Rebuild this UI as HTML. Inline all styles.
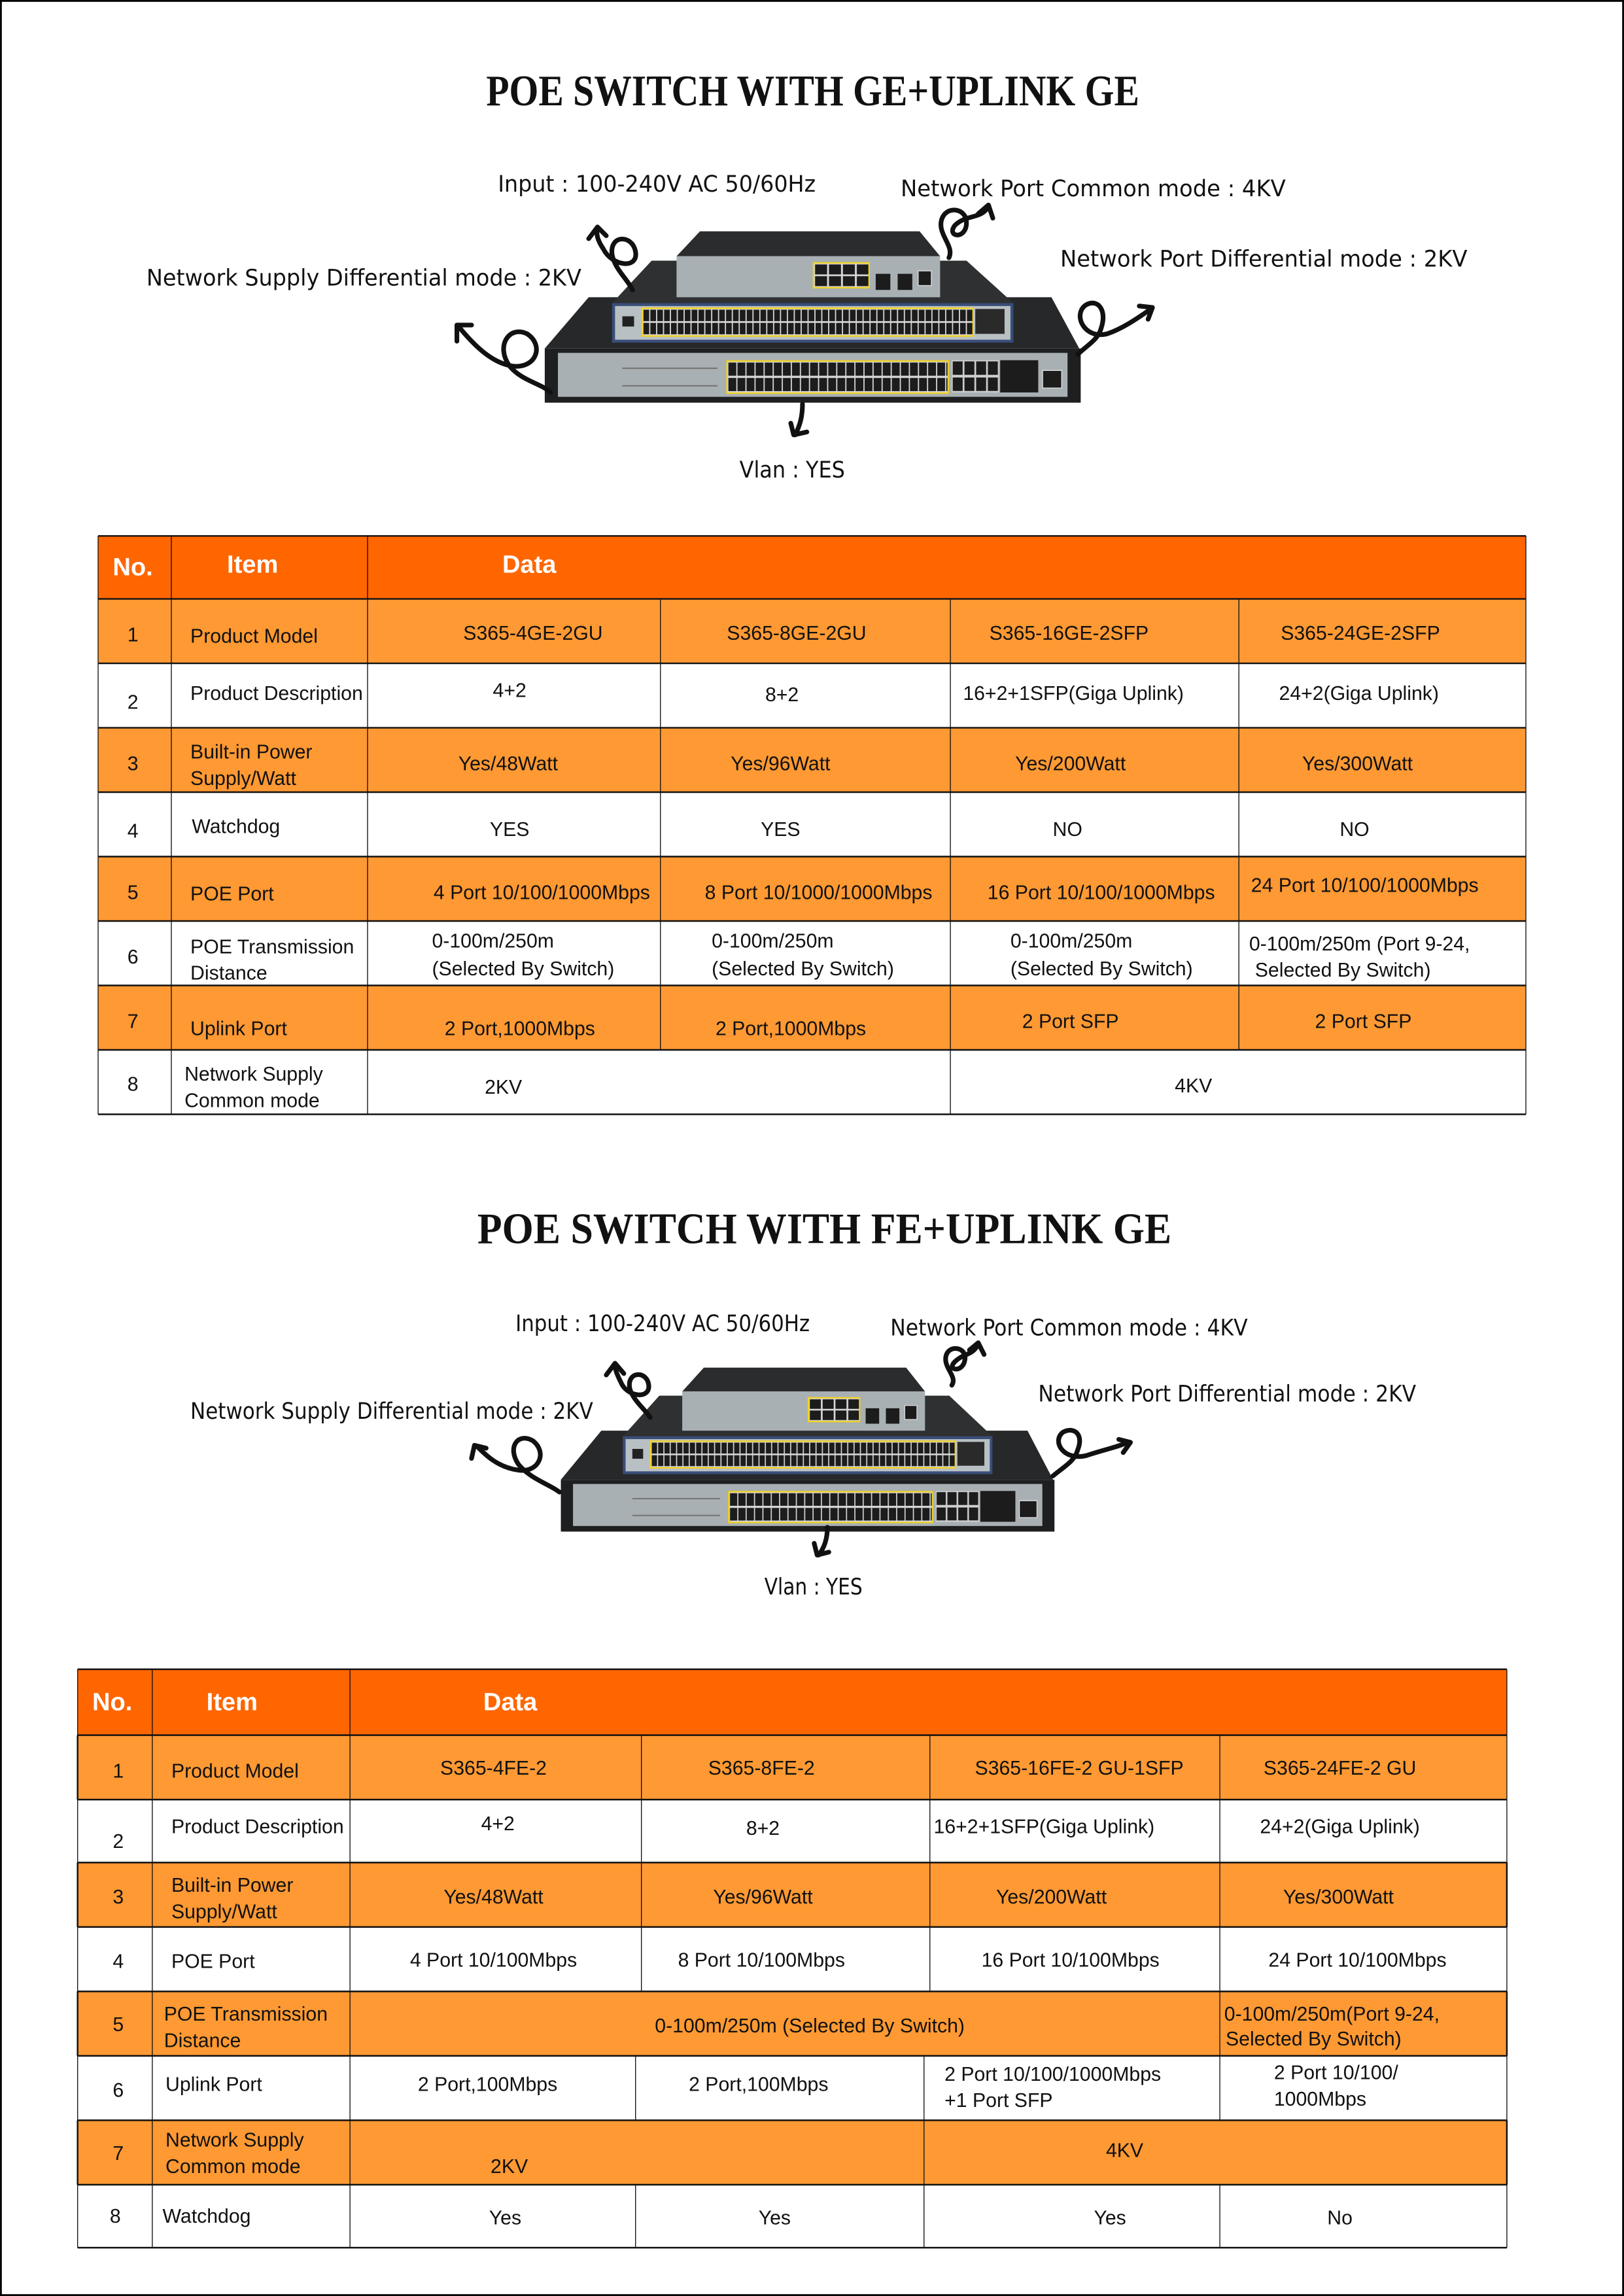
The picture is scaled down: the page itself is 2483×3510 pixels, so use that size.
<!DOCTYPE html>
<html><head><meta charset="utf-8"><style>
html,body{margin:0;padding:0;background:#fff}
svg{display:block}
.t{font-family:"Liberation Sans Narrow","Liberation Sans",sans-serif;font-size:13.5px;fill:#111}
.h{font-family:"Liberation Sans Narrow","Liberation Sans",sans-serif;font-size:17px;font-weight:bold;fill:#fff}
.l{font-family:"DejaVu Sans","Liberation Sans",sans-serif;font-size:15.5px;fill:#111}
.ti{font-family:"Liberation Serif",serif;font-size:30px;font-weight:bold;fill:#111}
.m{text-anchor:middle}
.a{fill:none;stroke:#111;stroke-width:3.2;stroke-linecap:round;stroke-linejoin:round}
</style></head><body>
<svg width="2483" height="3510" viewBox="0 0 1109 1568" preserveAspectRatio="none" xmlns="http://www.w3.org/2000/svg">
<defs>
<pattern id="p1" patternUnits="userSpaceOnUse" width="6.2" height="10.5" x="497" y="247"><rect width="6.2" height="10.5" fill="#d8d8d8"/><rect x="0.4" y="0.6" width="5.4" height="9" fill="#1c1c1c"/></pattern>
<pattern id="p2" patternUnits="userSpaceOnUse" width="4.7" height="9" x="439" y="211"><rect width="4.7" height="9" fill="#d8d8d8"/><rect x="0.4" y="0.5" width="3.9" height="7.8" fill="#1c1c1c"/></pattern>
<pattern id="p3" patternUnits="userSpaceOnUse" width="9.5" height="8" x="556" y="180"><rect width="9.5" height="8" fill="#d8d8d8"/><rect x="0.6" y="0.6" width="8.2" height="6.8" fill="#1c1c1c"/></pattern>
<pattern id="p4" patternUnits="userSpaceOnUse" width="8" height="11" x="650" y="246"><rect width="8" height="11" fill="#d0d0d0"/><rect x="0.6" y="0.8" width="6.8" height="9.2" fill="#1c1c1c"/></pattern>
<g id="sw">
 <polygon points="402,203 718,203 737,238 372,238" fill="#26282a"/>
 <polygon points="445,178 660,178 692,207 418,207" fill="#2e3032"/>
 <polygon points="478,158 628,158 642,175 462,175" fill="#2a2c2e"/>
 <rect x="462" y="175" width="180" height="28" fill="#a8b0b4"/>
 <rect x="555" y="179" width="39" height="18" fill="#f2d21a"/>
 <rect x="556" y="180" width="37" height="16" fill="url(#p3)"/>
 <rect x="598" y="187" width="10" height="11" fill="#1c1c1c"/>
 <rect x="613" y="187" width="10" height="11" fill="#1c1c1c"/>
 <rect x="627" y="185" width="9" height="10" fill="#1c1c1c" stroke="#ddd" stroke-width="0.6"/>
 <rect x="418" y="207" width="274" height="27" fill="#3a4d7a"/>
 <rect x="420" y="209" width="270" height="23" fill="#b9c0c3"/>
 <rect x="438" y="210" width="227" height="20" fill="#f2d21a"/>
 <rect x="439" y="211" width="225" height="18" fill="url(#p2)"/>
 <rect x="666" y="211" width="20" height="17" fill="#2a2a2a"/>
 <rect x="425" y="216" width="8" height="7" fill="#222"/>
 <rect x="372" y="238" width="366" height="37" fill="#1e1f20"/>
 <rect x="381" y="241" width="348" height="30" fill="#a9b0b3"/>
 <rect x="496" y="246" width="152" height="23" fill="#f2d21a"/>
 <rect x="497" y="247" width="150" height="21" fill="url(#p1)"/>
 <rect x="650" y="246" width="32" height="22" fill="url(#p4)"/>
 <rect x="683" y="246" width="26" height="22" fill="#1c1c1c"/>
 <rect x="712" y="253" width="13" height="12" fill="#1c1c1c" stroke="#ddd" stroke-width="0.6"/>
 <g fill="#777"><rect x="425" y="251" width="65" height="1"/><rect x="425" y="263" width="65" height="1"/></g>
</g>
</defs>
<rect x="0.5" y="0.5" width="1108" height="1567" fill="#fff" stroke="#000" stroke-width="1.5"/>

<text class="ti m" x="555" y="72" textLength="446" lengthAdjust="spacingAndGlyphs">POE SWITCH WITH GE+UPLINK GE</text>
<text class="l" x="340" y="131" textLength="217" lengthAdjust="spacingAndGlyphs">Input : 100-240V AC 50/60Hz</text>
<text class="l" x="615" y="134" textLength="263" lengthAdjust="spacingAndGlyphs">Network Port Common mode : 4KV</text>
<text class="l" x="100" y="195" textLength="297" lengthAdjust="spacingAndGlyphs">Network Supply Differential mode : 2KV</text>
<text class="l" x="724" y="182" textLength="278" lengthAdjust="spacingAndGlyphs">Network Port Differential mode : 2KV</text>
<text class="l" x="505" y="326" textLength="72" lengthAdjust="spacingAndGlyphs">Vlan : YES</text>

<use href="#sw"/>
<path class="a" d="M432,198 C428,190 420,184 418,174 C416,160 432,160 434,172 C436,184 418,182 412,170 C408,164 407,160 408,156"/>
<path class="a" d="M402,163 L408,155 L414,161"/>
<path class="a" d="M648,176 C652,168 640,160 643,150 C646,140 660,142 660,152 C660,164 646,162 652,154 C660,146 670,150 675,141"/>
<path class="a" d="M668,146 L675,140 L678,149"/>
<path class="a" d="M376,268 C370,262 356,260 348,250 C338,236 348,222 360,228 C372,236 366,252 350,250 C336,248 324,236 314,224"/>
<path class="a" d="M312,233 L312,222 L322,222"/>
<path class="a" d="M736,242 C742,236 750,232 752,224 C756,212 750,204 742,208 C732,214 740,232 756,228 C768,224 780,215 786,211"/>
<path class="a" d="M778,209 L787,210 L784,218"/>
<path class="a" d="M548,276 C548,285 546,291 543,297"/>
<path class="a" d="M540,289 L542,297 L551,295"/>

<rect x="67" y="366" width="975" height="43" fill="#ff6600"/>
<rect x="67" y="409" width="975" height="44" fill="#ff9933"/>
<rect x="67" y="497" width="975" height="44" fill="#ff9933"/>
<rect x="67" y="585" width="975" height="44" fill="#ff9933"/>
<rect x="67" y="673" width="975" height="44" fill="#ff9933"/>
<g stroke="#111" stroke-width="1.1">
<line x1="67" y1="366" x2="1042" y2="366"/><line x1="67" y1="409" x2="1042" y2="409"/>
<line x1="67" y1="453" x2="1042" y2="453"/><line x1="67" y1="497" x2="1042" y2="497"/>
<line x1="67" y1="541" x2="1042" y2="541"/><line x1="67" y1="585" x2="1042" y2="585"/>
<line x1="67" y1="629" x2="1042" y2="629"/><line x1="67" y1="673" x2="1042" y2="673"/>
<line x1="67" y1="717" x2="1042" y2="717"/><line x1="67" y1="761" x2="1042" y2="761"/>
</g>
<g stroke="#111" stroke-width="0.6">
<line x1="67" y1="366" x2="67" y2="761"/><line x1="1042" y1="366" x2="1042" y2="761"/>
<line x1="117" y1="366" x2="117" y2="761"/><line x1="251" y1="366" x2="251" y2="761"/>
<line x1="451" y1="409" x2="451" y2="717"/><line x1="649" y1="409" x2="649" y2="761"/>
<line x1="846" y1="409" x2="846" y2="717"/>
</g>
<text class="h" x="77" y="393">No.</text><text class="h" x="155" y="391">Item</text><text class="h" x="343" y="391">Data</text>
<g class="t">
<text x="87" y="438">1</text><text x="130" y="439">Product Model</text>
<text class="m" x="364" y="437">S365-4GE-2GU</text><text class="m" x="544" y="437">S365-8GE-2GU</text>
<text class="m" x="730" y="437">S365-16GE-2SFP</text><text class="m" x="929" y="437">S365-24GE-2SFP</text>
<text x="87" y="484">2</text><text x="130" y="478">Product Description</text>
<text class="m" x="348" y="476">4+2</text><text class="m" x="534" y="479">8+2</text>
<text class="m" x="733" y="478">16+2+1SFP(Giga Uplink)</text><text class="m" x="928" y="478">24+2(Giga Uplink)</text>
<text x="87" y="526">3</text><text x="130" y="518">Built-in Power</text><text x="130" y="536">Supply/Watt</text>
<text class="m" x="347" y="526">Yes/48Watt</text><text class="m" x="533" y="526">Yes/96Watt</text>
<text class="m" x="731" y="526">Yes/200Watt</text><text class="m" x="927" y="526">Yes/300Watt</text>
<text x="87" y="572">4</text><text x="131" y="569">Watchdog</text>
<text class="m" x="348" y="571">YES</text><text class="m" x="533" y="571">YES</text>
<text class="m" x="729" y="571">NO</text><text class="m" x="925" y="571">NO</text>
<text x="87" y="614">5</text><text x="130" y="615">POE Port</text>
<text class="m" x="370" y="614">4 Port 10/100/1000Mbps</text><text class="m" x="559" y="614">8 Port 10/1000/1000Mbps</text>
<text class="m" x="752" y="614">16 Port 10/100/1000Mbps</text><text class="m" x="932" y="609">24 Port 10/100/1000Mbps</text>
<text x="87" y="658">6</text><text x="130" y="651">POE Transmission</text><text x="130" y="669">Distance</text>
<text x="295" y="647">0-100m/250m</text><text x="295" y="666">(Selected By Switch)</text>
<text x="486" y="647">0-100m/250m</text><text x="486" y="666">(Selected By Switch)</text>
<text x="690" y="647">0-100m/250m</text><text x="690" y="666">(Selected By Switch)</text>
<text x="853" y="649">0-100m/250m (Port 9-24,</text><text x="857" y="667">Selected By Switch)</text>
<text x="87" y="702">7</text><text x="130" y="707">Uplink Port</text>
<text class="m" x="355" y="707">2 Port,1000Mbps</text><text class="m" x="540" y="707">2 Port,1000Mbps</text>
<text class="m" x="731" y="702">2 Port SFP</text><text class="m" x="931" y="702">2 Port SFP</text>
<text x="87" y="745">8</text><text x="126" y="738">Network Supply</text><text x="126" y="756">Common mode</text>
<text x="331" y="747">2KV</text><text class="m" x="815" y="746">4KV</text>
</g>

<text class="ti m" x="563" y="849" textLength="474" lengthAdjust="spacingAndGlyphs">POE SWITCH WITH FE+UPLINK GE</text>
<text class="l" x="352" y="909" textLength="201" lengthAdjust="spacingAndGlyphs">Input : 100-240V AC 50/60Hz</text>
<text class="l" x="608" y="912" textLength="244" lengthAdjust="spacingAndGlyphs">Network Port Common mode : 4KV</text>
<text class="l" x="130" y="969" textLength="275" lengthAdjust="spacingAndGlyphs">Network Supply Differential mode : 2KV</text>
<text class="l" x="709" y="957" textLength="258" lengthAdjust="spacingAndGlyphs">Network Port Differential mode : 2KV</text>
<text class="l" x="522" y="1089" textLength="67" lengthAdjust="spacingAndGlyphs">Vlan : YES</text>

<use href="#sw" transform="translate(383,934) scale(0.921,0.957) translate(-372,-158)"/>
<path class="a" d="M444,968 C440,962 432,956 430,948 C428,936 442,936 443,946 C444,956 428,954 424,944 C421,938 420,935 420,932"/>
<path class="a" d="M414,939 L420,931 L426,938"/>
<path class="a" d="M650,946 C654,940 644,934 646,926 C648,918 660,920 659,928 C658,938 646,936 652,930 C658,924 664,926 668,918"/>
<path class="a" d="M662,922 L668,917 L672,925"/>
<path class="a" d="M382,1019 C376,1014 362,1010 354,1000 C346,988 354,978 364,984 C374,992 368,1006 354,1004 C340,1002 332,994 326,988"/>
<path class="a" d="M322,996 L324,987 L332,989"/>
<path class="a" d="M719,1008 C726,1002 734,998 736,990 C740,980 734,974 726,978 C718,984 726,998 742,994 C754,990 764,988 770,985"/>
<path class="a" d="M764,983 L772,985 L767,992"/>
<path class="a" d="M565,1043 C565,1051 563,1057 559,1062"/>
<path class="a" d="M556,1054 L558,1062 L566,1060"/>

<rect x="53" y="1140" width="976" height="45" fill="#ff6600"/>
<rect x="53" y="1185" width="976" height="44" fill="#ff9933"/>
<rect x="53" y="1272" width="976" height="44" fill="#ff9933"/>
<rect x="53" y="1360" width="976" height="44" fill="#ff9933"/>
<rect x="53" y="1448" width="976" height="44" fill="#ff9933"/>
<g stroke="#111" stroke-width="1.1">
<line x1="53" y1="1140" x2="1029" y2="1140"/><line x1="53" y1="1185" x2="1029" y2="1185"/>
<line x1="53" y1="1229" x2="1029" y2="1229"/><line x1="53" y1="1272" x2="1029" y2="1272"/>
<line x1="53" y1="1316" x2="1029" y2="1316"/><line x1="53" y1="1360" x2="1029" y2="1360"/>
<line x1="53" y1="1404" x2="1029" y2="1404"/><line x1="53" y1="1448" x2="1029" y2="1448"/>
<line x1="53" y1="1492" x2="1029" y2="1492"/><line x1="53" y1="1535" x2="1029" y2="1535"/>
<line x1="53" y1="1185" x2="53" y2="1229"/><line x1="53" y1="1272" x2="53" y2="1316"/>
<line x1="53" y1="1360" x2="53" y2="1404"/><line x1="53" y1="1448" x2="53" y2="1492"/>
<line x1="1029" y1="1272" x2="1029" y2="1316"/><line x1="1029" y1="1360" x2="1029" y2="1404"/>
<line x1="1029" y1="1448" x2="1029" y2="1492"/>
</g>
<g stroke="#111" stroke-width="0.6">
<line x1="53" y1="1140" x2="53" y2="1535"/><line x1="1029" y1="1140" x2="1029" y2="1535"/>
<line x1="104" y1="1140" x2="104" y2="1535"/><line x1="239" y1="1140" x2="239" y2="1535"/>
<line x1="438" y1="1185" x2="438" y2="1360"/><line x1="635" y1="1185" x2="635" y2="1360"/>
<line x1="833" y1="1185" x2="833" y2="1448"/>
<line x1="434" y1="1404" x2="434" y2="1448"/><line x1="631" y1="1404" x2="631" y2="1448"/>
<line x1="631" y1="1448" x2="631" y2="1492"/>
<line x1="434" y1="1492" x2="434" y2="1535"/><line x1="631" y1="1492" x2="631" y2="1535"/>
<line x1="833" y1="1492" x2="833" y2="1535"/>
</g>
<text class="h" x="63" y="1168">No.</text><text class="h" x="141" y="1168">Item</text><text class="h" x="330" y="1168">Data</text>
<g class="t">
<text x="77" y="1214">1</text><text x="117" y="1214">Product Model</text>
<text class="m" x="337" y="1212">S365-4FE-2</text><text class="m" x="520" y="1212">S365-8FE-2</text>
<text class="m" x="737" y="1212">S365-16FE-2 GU-1SFP</text><text class="m" x="915" y="1212">S365-24FE-2 GU</text>
<text x="77" y="1262">2</text><text x="117" y="1252">Product Description</text>
<text class="m" x="340" y="1250">4+2</text><text class="m" x="521" y="1253">8+2</text>
<text class="m" x="713" y="1252">16+2+1SFP(Giga Uplink)</text><text class="m" x="915" y="1252">24+2(Giga Uplink)</text>
<text x="77" y="1300">3</text><text x="117" y="1292">Built-in Power</text><text x="117" y="1310">Supply/Watt</text>
<text class="m" x="337" y="1300">Yes/48Watt</text><text class="m" x="521" y="1300">Yes/96Watt</text>
<text class="m" x="718" y="1300">Yes/200Watt</text><text class="m" x="914" y="1300">Yes/300Watt</text>
<text x="77" y="1344">4</text><text x="117" y="1344">POE Port</text>
<text class="m" x="337" y="1343">4 Port 10/100Mbps</text><text class="m" x="520" y="1343">8 Port 10/100Mbps</text>
<text class="m" x="731" y="1343">16 Port 10/100Mbps</text><text class="m" x="927" y="1343">24 Port 10/100Mbps</text>
<text x="77" y="1387">5</text><text x="112" y="1380">POE Transmission</text><text x="112" y="1398">Distance</text>
<text class="m" x="553" y="1388">0-100m/250m (Selected By Switch)</text>
<text x="836" y="1380">0-100m/250m(Port 9-24,</text><text x="837" y="1397">Selected By Switch)</text>
<text x="77" y="1432">6</text><text x="113" y="1428">Uplink Port</text>
<text class="m" x="333" y="1428">2 Port,100Mbps</text><text class="m" x="518" y="1428">2 Port,100Mbps</text>
<text x="645" y="1421">2 Port 10/100/1000Mbps</text><text x="645" y="1439">+1 Port SFP</text>
<text x="870" y="1420">2 Port 10/100/</text><text x="870" y="1438">1000Mbps</text>
<text x="77" y="1475">7</text><text x="113" y="1466">Network Supply</text><text x="113" y="1484">Common mode</text>
<text x="335" y="1484">2KV</text><text class="m" x="768" y="1473">4KV</text>
<text x="75" y="1518">8</text><text x="111" y="1518">Watchdog</text>
<text class="m" x="345" y="1519">Yes</text><text class="m" x="529" y="1519">Yes</text>
<text class="m" x="758" y="1519">Yes</text><text class="m" x="915" y="1519">No</text>
</g>
</svg>
</body></html>
